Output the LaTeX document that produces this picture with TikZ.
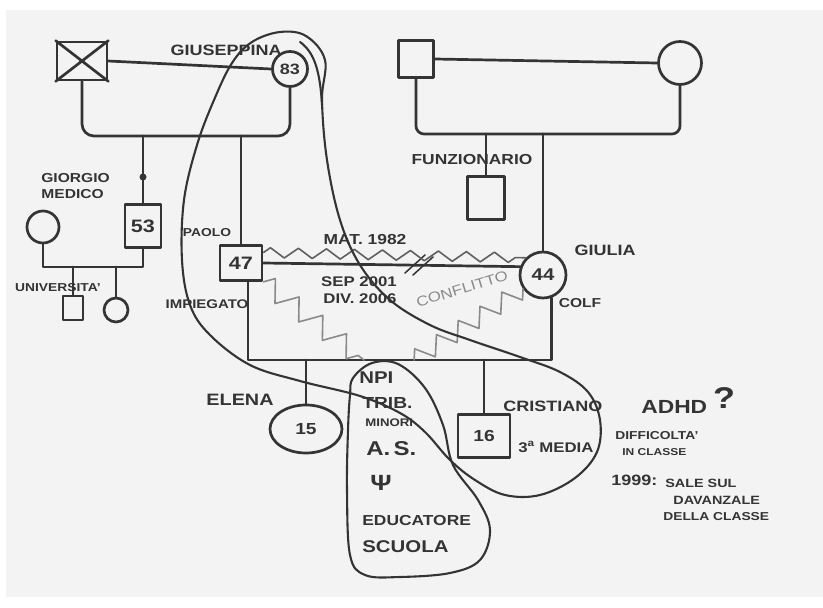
\documentclass[tikz,border=0pt]{standalone}
\usepackage{fontspec}
\setmainfont[FakeStretch=1.2]{Liberation Sans}
\usetikzlibrary{shapes.geometric,decorations.pathmorphing}
\definecolor{ink}{HTML}{343434}
\definecolor{paper}{HTML}{F3F3F3}
\definecolor{pencil}{HTML}{8A8A8A}
\newcommand{\hsz}[1]{\fontsize{#1}{#1}\selectfont\bfseries}

\begin{document}
\begin{tikzpicture}[x=1pt,y=-1pt,color=ink,line width=2.7pt,line cap=round,line join=round,
  box/.style={draw,rectangle,inner sep=0pt},
  fem/.style={draw,circle,inner sep=0pt},
  lbl/.style={inner sep=0pt,font=\hsz{#1}},
  loopline/.style={line width=2.1pt},
  zig/.style={line width=1.6pt,decorate,decoration={zigzag,segment length=#1,amplitude=6pt}}]
\useasboundingbox (0,0) rectangle (823,608);
\fill[white] (0,0) rectangle (823,608);
\fill[paper] (6,10) rectangle (823,597);

% famiglia di Paolo
\node[box,minimum width=50,minimum height=38] (nonnoP) at (82,61) {};
\draw (nonnoP.north west) -- (nonnoP.south east) (nonnoP.south west) -- (nonnoP.north east);
\node[fem,minimum size=35,font=\hsz{15}] (giuseppina) at (290,69) {83};
\node[box,minimum width=36,minimum height=43,font=\hsz{18}] (giorgio) at (143,226) {53};
\node[fem,minimum size=32] (moglieG) at (43,227) {};
\node[box,minimum width=20,minimum height=24] (nipoteM) at (73,308) {};
\node[fem,minimum size=24] (nipoteF) at (116,310) {};
\node[box,minimum width=42,minimum height=35,font=\hsz{18}] (paolo) at (241,263) {47};

% famiglia di Giulia
\node[box,minimum width=35,minimum height=37] (nonnoM) at (416,59) {};
\node[fem,minimum size=43] (nonnaM) at (680,63) {};
\node[box,minimum width=37,minimum height=43] (funzionario) at (486,198) {};
\node[fem,minimum size=46,font=\hsz{17}] (giulia) at (543,275) {44};

% figli
\node[draw,ellipse,inner sep=0pt,minimum width=72,minimum height=48,font=\hsz{16}] (elena) at (306,429) {15};
\node[box,minimum width=52,minimum height=43,font=\hsz{16}] (cristiano) at (484,436) {16};

\coordinate (sibP) at (190,136);
\coordinate (sibG) at (90,267);
\coordinate (sibM) at (550,134);
\coordinate (sibF) at (400,360);
\coordinate (npiL) at (364,360);
\coordinate (npiR) at (414,360);

\draw (nonnoP.east) -- (giuseppina.west);
\draw[rounded corners=12] (nonnoP.south) |- (sibP) -| (giuseppina.south);
\draw (giorgio.north |- sibP) -- (giorgio.north);
\fill (giorgio.north |- 0,177) circle (3.5);
\draw (paolo.north |- sibP) -- (paolo.north);
\draw (moglieG.south) |- (sibG) -| (giorgio.south);
\draw (nipoteM.north |- sibG) -- (nipoteM.north);
\draw (nipoteF.north |- sibG) -- (nipoteF.north);

\draw (nonnoM.east) -- (nonnaM.west);
\draw[rounded corners=8] (nonnoM.south) |- (sibM) -| (nonnaM.south);
\draw (funzionario.north |- sibM) -- (funzionario.north);
\draw (giulia.north |- sibM) -- (giulia.north);

\draw (paolo.east) -- (giulia.160);
\draw[line width=1.5pt] (405,273) -- (425,255) (413,275) -- (433,257);
\draw (paolo.290) |- (sibF) -| (giulia.290);
\draw (elena.north |- sibF) -- (elena.north);
\draw (cristiano.north |- sibF) -- (cristiano.north);

% conflitti
\draw[zig=28,color=gray!75!black,decoration={amplitude=5pt}] (paolo.25) -- (giulia.135);
\draw[zig=30,color=pencil,decoration={amplitude=10pt}] (paolo.south east) -- (npiL);
\draw[zig=26,color=pencil,decoration={amplitude=9pt}] (giulia.215) -- (npiR);

% triangolo e servizi
\draw[loopline] plot[smooth cycle,tension=0.6] coordinates {(232,63) (252,42) (280,32) (306,36) (325,60) (322,100) (327,160) (340,220) (360,265) (390,300) (430,325) (470,340) (520,357) (560,372) (588,392) (600,420) (597,452) (575,478) (540,495) (505,495) (475,480) (450,460) (425,432) (400,413) (360,396) (300,381) (250,365) (210,335) (190,305) (182,260) (184,200) (197,145) (214,100)};
\draw[loopline] (300,42) .. controls (314,52) and (320,70) .. (322,105);
\draw[loopline] plot[smooth cycle,tension=0.6] coordinates {(353,378) (372,363) (398,364) (425,388) (443,425) (453,465) (478,500) (490,530) (480,560) (450,573) (400,577) (365,575) (350,555) (347,490) (348,430) (350,395)};

% scritte
\node[lbl=15,anchor=east] (tGiuseppina) at (283,50) {GIUSEPPINA};
\node[lbl=13,anchor=west] (tGiorgio) at (40,178) {GIORGIO};
\node[lbl=13,anchor=west] (tMedico) at (40,194) {MEDICO};
\node[lbl=11.5] (tUniv) at (58,288) {UNIVERSITA'};
\node[lbl=11.5] (tPaolo) at (207,233) {PAOLO};
\node[lbl=12.5] (tImpiegato) at (207,304) {IMPIEGATO};
\node[lbl=14.5] (tFunz) at (472,160) {FUNZIONARIO};
\node[lbl=15] (tGiulia) at (605,250) {GIULIA};
\node[lbl=13] (tColf) at (580,303) {COLF};
\node[lbl=14.5] (tMat) at (365,240) {MAT. 1982};
\node[lbl=14] (tSep) at (359,282) {SEP 2001};
\node[lbl=14] (tDiv) at (360,299) {DIV. 2006};
\node[inner sep=0pt,text=pencil,rotate=17,font={\fontsize{14}{14}\selectfont}] (tConfl) at (462,289) {CONFLITTO};
\node[lbl=16.5] (tElena) at (240,400) {ELENA};
\node[lbl=17,anchor=west] (tNpi) at (358,378) {NPI};
\node[lbl=16,anchor=west] (tTrib) at (361,403) {TRIB.};
\node[lbl=11,anchor=west] (tMinori) at (364,423) {MINORI};
\node[lbl=20,anchor=west] (tAs) at (365,449) {A.\,S.};
\node[lbl=22,anchor=west] (tPsi) at (369,483) {Ψ};
\node[lbl=14.5,anchor=west] (tEduc) at (361,521) {EDUCATORE};
\node[lbl=17,anchor=west] (tScuola) at (361,547) {SCUOLA};
\node[lbl=15,anchor=west] (tCrist) at (502,406) {CRISTIANO};
\node[lbl=14,anchor=west] (tMedia) at (517,447) {3\textsuperscript{a} MEDIA};
\node[lbl=19,anchor=west] (tAdhd) at (640,407) {ADHD};
\node[lbl=30] (tQ) at (724,398) {?};
\node[lbl=11.5,anchor=west] (tDiff) at (614,436) {DIFFICOLTA'};
\node[lbl=10,anchor=west] (tClasse) at (621,452) {IN CLASSE};
\node[lbl=15,anchor=west] (t1999) at (610,480) {1999:};
\node[lbl=12,anchor=west] (tSale) at (664,483) {SALE SUL};
\node[lbl=12,anchor=west] (tDavanz) at (672,500) {DAVANZALE};
\node[lbl=11.5,anchor=west] (tDella) at (662,517) {DELLA CLASSE};
\end{tikzpicture}
\end{document}
